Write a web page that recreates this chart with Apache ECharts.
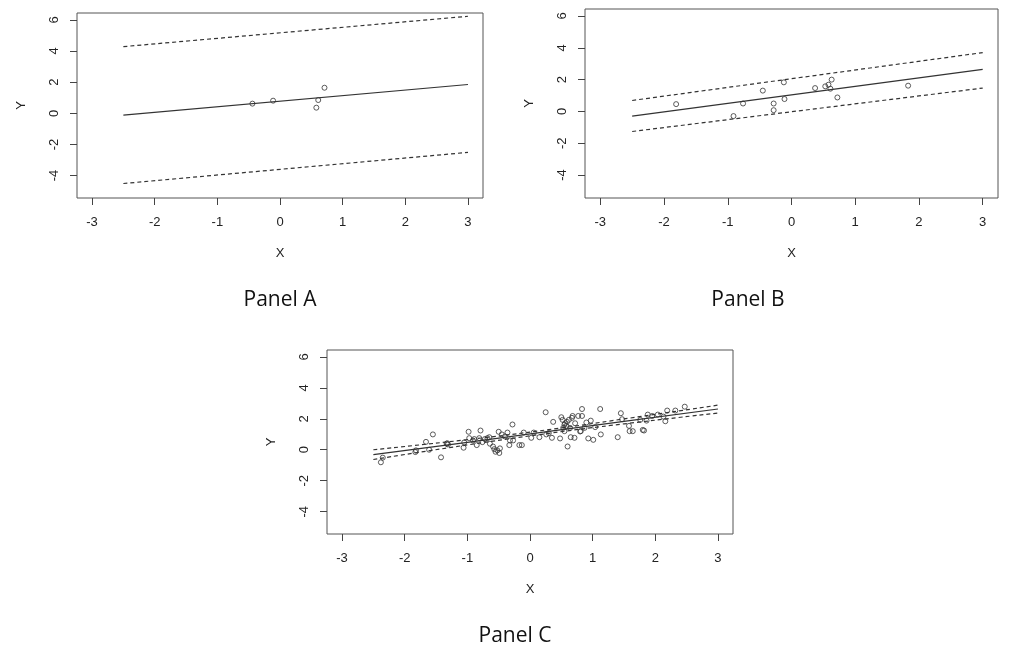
<!DOCTYPE html>
<html>
<head>
<meta charset="utf-8">
<script src="https://cdn.jsdelivr.net/npm/echarts@6/dist/echarts.min.js"></script>
<style>
html,body{margin:0;padding:0;background:#fff;}
#chart{width:1024px;height:659px;}
</style>
</head>
<body>
<div id="chart"></div>
<script>
// ---- tick labels / ranges ----
const ticksX = [-3, -2, -1, 0, 1, 2, 3];
const ticksY = [-4, -2, 0, 2, 4, 6];
const xRange = [-3.24, 3.24];
const yRange = [-5.44, 6.44];
const panelNames = ['Panel A', 'Panel B', 'Panel C'];

// ---- Panel A ----
const aX = [-0.44, -0.11, 0.58, 0.61, 0.71];
const aY = [0.62, 0.81, 0.36, 0.85, 1.64];
const aLineX = [-2.5, 3.0];
const aFit = [-0.12, 1.85];
const aUpper = [4.28, 6.23];
const aLower = [-4.51, -2.51];

// ---- Panel B ----
const bX = [-1.81, -0.91, -0.76, -0.45, -0.28, -0.28, -0.12, -0.11, 0.37, 0.53, 0.58, 0.61, 0.63, 0.72, 1.83];
const bY = [0.46, -0.29, 0.50, 1.31, 0.50, 0.08, 1.83, 0.78, 1.47, 1.58, 1.68, 1.43, 2.00, 0.88, 1.62];
const bLineX = [-2.5, 3.0];
const bFit = [-0.29, 2.65];
const bUpper = [0.69, 3.70];
const bLower = [-1.26, 1.47];

// ---- Panel C ----
const cX = [-2.38, -2.35, -1.83, -1.82, -1.66, -1.61, -1.55, -1.42, -1.33, -1.31,
            -1.06, -1.05, -0.98, -0.97, -0.91, -0.89, -0.85, -0.81, -0.79, -0.76,
            -0.72, -0.68, -0.65, -0.64, -0.59, -0.57, -0.55, -0.52, -0.49, -0.48,
            -0.50, -0.45, -0.40, -0.36, -0.33, -0.32, -0.28, -0.27, -0.17, -0.13,
            -0.10, 0.02, 0.06, 0.15, 0.25, 0.26, 0.30, 0.35, 0.37, 0.48,
            0.50, 0.52, 0.53, 0.55, 0.56, 0.58, 0.59, 0.60, 0.62, 0.64,
            0.65, 0.67, 0.68, 0.71, 0.72, 0.77, 0.81, 0.83, 0.83, 0.87,
            0.90, 0.93, 0.97, 1.01, 1.04, 1.12, 1.13, 1.40, 1.45, 1.47,
            1.58, 1.59, 1.64, 1.76, 1.80, 1.82, 1.86, 1.88, 1.95, 2.04,
            2.13, 2.16, 2.19, 2.32, 2.47, 0.80, 0.55, -1.32];
const cY = [-0.81, -0.51, -0.15, -0.04, 0.51, 0.00, 0.99, -0.49, 0.39, 0.34,
            0.13, 0.47, 1.16, 0.75, 0.60, 0.69, 0.30, 0.75, 1.24, 0.49,
            0.69, 0.75, 0.81, 0.39, 0.21, 0.04, -0.13, -0.04, -0.21, 0.09,
            1.16, 0.99, 0.86, 1.11, 0.30, 0.60, 1.63, 0.60, 0.30, 0.30,
            1.11, 0.77, 1.11, 0.81, 2.42, 0.99, 1.07, 0.77, 1.80, 0.73,
            2.10, 1.93, 1.41, 1.20, 1.71, 1.54, 1.80, 0.21, 1.93, 1.41,
            0.81, 2.06, 2.18, 0.77, 1.71, 2.18, 1.20, 2.63, 2.18, 1.41,
            1.76, 0.73, 1.88, 0.64, 1.46, 2.63, 0.99, 0.81, 2.36, 1.97,
            1.54, 1.20, 1.20, 1.93, 1.28, 1.24, 1.88, 2.27, 2.18, 2.27,
            2.14, 1.84, 2.53, 2.53, 2.78, 1.18, 1.62, 0.42];
const cLineX = [-2.5, -1.0, 0.3, 1.5, 3.0];
const cFit = [-0.32, 0.48, 1.18, 1.83, 2.63];
const cUpper = [0.00, 0.65, 1.30, 1.99, 2.88];
const cLower = [-0.63, 0.31, 1.06, 1.67, 2.37];

const panels = [
  {x: aX, y: aY, lx: aLineX, fit: aFit, up: aUpper, lo: aLower},
  {x: bX, y: bY, lx: bLineX, fit: bFit, up: bUpper, lo: bLower},
  {x: cX, y: cY, lx: cLineX, fit: cFit, up: cUpper, lo: cLower}
];

const gridRects = [
  {left: 77, top: 13, width: 406, height: 185},
  {left: 585, top: 9, width: 413, height: 189},
  {left: 327, top: 350, width: 406, height: 184}
];
const captionPos = [[280, 300], [748, 300], [515, 636]];

const TXT = '#222';
const LINE = '#333';
const fontFam = '"Liberation Sans", Arial, sans-serif';

const zip = (xs, ys) => xs.map((v, i) => [v, ys[i]]);

const option = {
  backgroundColor: '#fff',
  animation: false,
  grid: gridRects.map(r => Object.assign({show: true, borderColor: '#555', borderWidth: 1, backgroundColor: 'transparent'}, r)),
  xAxis: gridRects.map((r, i) => ({
    type: 'value', gridIndex: i, min: xRange[0], max: xRange[1],
    name: 'X', nameLocation: 'middle', nameGap: 49,
    nameTextStyle: {color: TXT, fontSize: 13, fontFamily: fontFam},
    axisLine: {show: false, onZero: false},
    axisTick: {show: true, length: 7, lineStyle: {color: '#444'}, customValues: ticksX},
    axisLabel: {color: TXT, fontSize: 13, fontFamily: fontFam, margin: 18, customValues: ticksX},
    splitLine: {show: false}
  })),
  yAxis: gridRects.map((r, i) => ({
    type: 'value', gridIndex: i, min: yRange[0], max: yRange[1],
    name: 'Y', nameLocation: 'middle', nameGap: 49, nameRotate: 90,
    nameTextStyle: {color: TXT, fontSize: 13, fontFamily: fontFam},
    axisLine: {show: false, onZero: false},
    axisTick: {show: true, length: 7, lineStyle: {color: '#444'}, customValues: ticksY},
    axisLabel: {color: TXT, fontSize: 13, fontFamily: fontFam, margin: 16, rotate: 90, customValues: ticksY},
    splitLine: {show: false}
  })),
  series: [],
  graphic: panelNames.map((t, i) => ({
    type: 'text', x: captionPos[i][0], y: captionPos[i][1],
    style: {text: t, fill: '#111', font: '21px "Open Sans", sans-serif', textAlign: 'center', textVerticalAlign: 'middle'}
  }))
};

panels.forEach((p, i) => {
  option.series.push({
    type: 'scatter', xAxisIndex: i, yAxisIndex: i, data: zip(p.x, p.y),
    symbol: 'circle', symbolSize: 5, z: 5,
    itemStyle: {color: 'rgba(255,255,255,0)', borderColor: '#333', borderWidth: 1}
  });
  option.series.push({
    type: 'line', xAxisIndex: i, yAxisIndex: i, data: zip(p.lx, p.fit),
    showSymbol: false, smooth: false, lineStyle: {color: LINE, width: 1.2}
  });
  [p.up, p.lo].forEach(b => option.series.push({
    type: 'line', xAxisIndex: i, yAxisIndex: i, data: zip(p.lx, b),
    showSymbol: false, smooth: i === 2, lineStyle: {color: LINE, width: 1.2, type: [4, 3]}
  }));
});

const chart = echarts.init(document.getElementById('chart'), null, {renderer: 'canvas'});
chart.setOption(option);
</script>
</body>
</html>
